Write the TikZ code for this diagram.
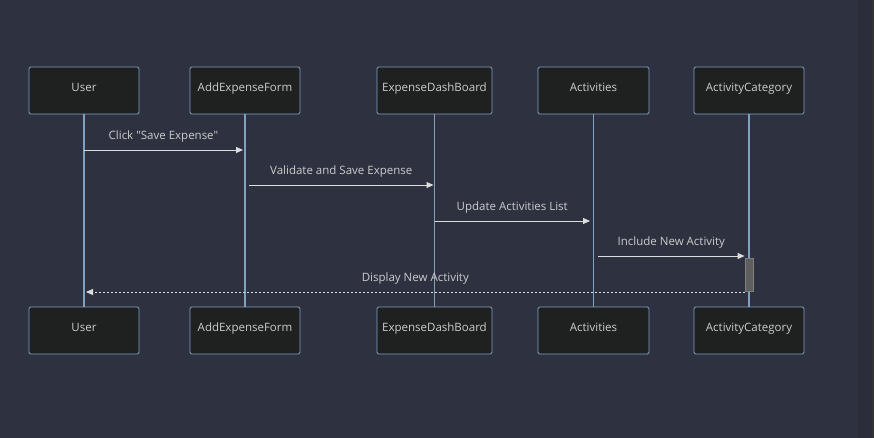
\documentclass[tikz,border=0pt]{standalone}
\usepackage{fontspec}
\setmainfont{Open Sans}
\usetikzlibrary{arrows.meta}
\definecolor{bgcol}{HTML}{2E3140}
\definecolor{edgecol}{HTML}{2B2E3A}
\definecolor{boxfill}{HTML}{1F2020}
\definecolor{boxline}{HTML}{81A1C1}
\definecolor{txtcol}{HTML}{CCCCCC}
\definecolor{msgcol}{HTML}{DDDDDD}
\tikzset{
  actor/.style={draw=boxline, fill=boxfill, rounded corners=1.5pt, line width=0.8pt,
    minimum height=47pt, text=txtcol, text height=8.5pt, text depth=6.5pt,
    font=\fontsize{11.5}{14}\selectfont},
  lifeline/.style={draw=boxline, line width=1.1pt},
  msg/.style={draw=msgcol, line width=0.9pt, -{Triangle[length=7pt,width=6pt]}},
  reply/.style={msg, dash pattern=on 2pt off 2pt},
  msglabel/.style={text=txtcol, font=\fontsize{11.5}{14}\selectfont, above=4pt, midway}
}
\begin{document}
\begin{tikzpicture}[x=1pt,y=-1pt]
    % Background and canvas edge
    \fill[bgcol] (0,0) rectangle (874,438);
    \fill[edgecol] (858,0) rectangle (872,438);
    \fill[black!60!gray] (872,0) rectangle (874,438);
    \useasboundingbox (0,0) rectangle (874,438);

    % Participants, top and bottom, with lifelines
    \foreach \id/\name/\x/\w in {u/User/84/110, f/AddExpenseForm/245/110,
        d/ExpenseDashBoard/434.5/115, a/Activities/593.5/111, c/ActivityCategory/749/110} {
        \node[actor, minimum width=\w pt] (\id-top) at (\x,90.5) {\name};
        \node[actor, minimum width=\w pt] (\id-bot) at (\x,330.5) {\name};
        \draw[lifeline] (\id-top.south) -- (\id-bot.north);
    }

    % Activation on ActivityCategory
    \node[draw=gray, fill=black!40!gray!90, minimum width=8pt, minimum height=33pt,
        inner sep=0pt, line width=0.8pt] (act) at (749,274.5) {};

    % Messages
    \draw[msg] (u-top |- 0,150) -- (243,150) node[msglabel] {Click \textquotedbl Save Expense\textquotedbl};
    \draw[msg] ([xshift=4pt]f-top.south |- 0,185) -- ([xshift=-1pt]d-top.south |- 0,185)
        node[msglabel] {Validate and Save Expense};
    \draw[msg] (d-top |- 0,221) -- ([xshift=-3.5pt]a-top.south |- 0,221)
        node[msglabel] {Update Activities List};
    \draw[msg] ([xshift=4.5pt]a-top.south |- 0,256) -- (act.west |- 0,256)
        node[msglabel] {Include New Activity};
    \draw[reply] (act.west |- 0,292) -- ([xshift=2pt]u-bot.north |- 0,292)
        node[msglabel] {Display New Activity};
\end{tikzpicture}
\end{document}
